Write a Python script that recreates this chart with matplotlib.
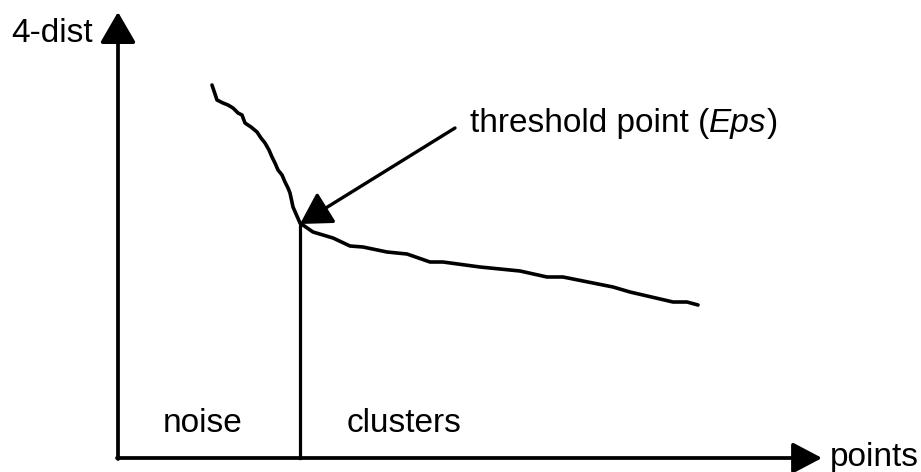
import matplotlib
matplotlib.use("Agg")
import matplotlib.pyplot as plt
from matplotlib import font_manager

# pick a narrow sans font if one is installed
installed = {f.name for f in font_manager.fontManager.ttflist}
family = "Liberation Sans"
for cand in ["Liberation Sans Narrow", "Arial Narrow", "Nimbus Sans Narrow"]:
    if cand in installed:
        family = cand
        break
plt.rcParams["font.family"] = [family, "DejaVu Sans"]

# sorted 4-dist curve (x = points, y = 4-dist)
pts_x = [94, 96, 99, 105, 110, 115, 120, 124, 127, 133, 139, 143, 147, 151,
         154, 157, 160, 164, 167, 170, 172, 175, 182,
         195, 215, 232, 245, 269, 289, 312, 325, 362, 402, 429, 445, 495, 512,
         555, 569, 580]
dist_y = [373, 367, 358, 355, 353, 350, 345, 343, 335, 331, 326, 320, 315, 308,
          301, 295, 288, 283, 276, 270, 265, 251, 235,
          226, 220, 212, 211, 206, 204, 196, 196, 191, 187, 181, 181, 171, 166,
          156, 156, 153]

eps_x, eps_y = 182, 234
x_max, y_max = 704, 446

fig = plt.figure(figsize=(9.21, 4.72), dpi=100)
ax = fig.add_axes([0, 0, 1, 1])
ax.set_xlim(-118, 803)
ax.set_ylim(-14, 458)
ax.axis("off")

k = "black"
ax.plot(pts_x, dist_y, color=k, lw=2.6, solid_capstyle="round")
ax.plot([eps_x, eps_x], [0, eps_y], color=k, lw=2.3)

# axes with arrow heads
ax.annotate("", xy=(0, y_max), xytext=(0, -1),
            arrowprops=dict(arrowstyle="-|>,head_length=1.9,head_width=1.1",
                            mutation_scale=10, lw=2.7, color=k,
                            shrinkA=0, shrinkB=0))
ax.annotate("", xy=(x_max, 0), xytext=(-1, 0),
            arrowprops=dict(arrowstyle="-|>,head_length=1.8,head_width=0.95",
                            mutation_scale=10, lw=2.7, color=k,
                            shrinkA=0, shrinkB=0))
ax.annotate("", xy=(eps_x, eps_y), xytext=(337, 330),
            arrowprops=dict(arrowstyle="-|>,head_length=1.9,head_width=1.1",
                            mutation_scale=10, lw=2.4, color=k,
                            shrinkA=0, shrinkB=0))

fs = 24
ax.text(-107, 416, "4-dist", fontsize=fs, ha="left", va="baseline")
ax.text(712, -8, "points", fontsize=fs, ha="left", va="baseline")
ax.text(45, 26, "noise", fontsize=fs, ha="left", va="baseline")
ax.text(229, 26, "clusters", fontsize=fs, ha="left", va="baseline")

t1 = ax.text(352, 326, "threshold point (", fontsize=fs, ha="left", va="baseline")
t2 = ax.annotate("Eps", xy=(1, 0), xycoords=t1, fontsize=fs, style="italic",
                 ha="left", va="bottom")
ax.annotate(")", xy=(1, 0), xycoords=t2, fontsize=fs, ha="left", va="bottom")

fig.savefig("out.png", dpi=100)
